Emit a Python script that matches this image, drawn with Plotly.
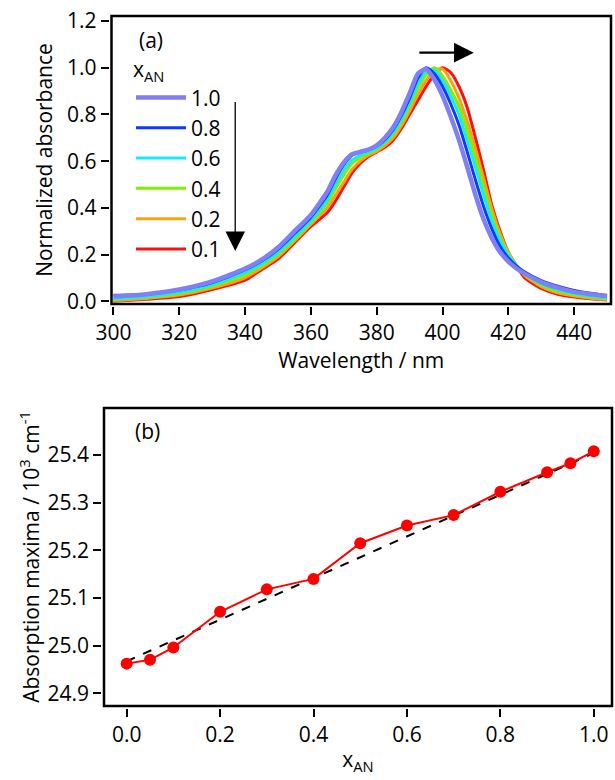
import plotly.graph_objects as go

# ---------------- data: panel (a) ----------------
wavelength = [300, 310, 320, 330, 340, 345, 350, 355, 360, 365, 367.5, 370, 372.5, 375, 377.5,
              380, 382.5, 385, 387.5, 390, 392.5, 395, 397.5, 400, 402.5, 405, 407.5, 410,
              412.5, 415, 417.5, 420, 422.5, 425, 430, 435, 440, 445, 450]

abs_10 = [0.020, 0.030, 0.050, 0.085, 0.140, 0.178, 0.230, 0.300, 0.370, 0.470, 0.540, 0.595, 0.630,
          0.640, 0.650, 0.668, 0.700, 0.745, 0.810, 0.890, 0.975, 0.995, 0.950, 0.880, 0.790, 0.690,
          0.575, 0.455, 0.350, 0.270, 0.210, 0.170, 0.140, 0.118, 0.082, 0.058, 0.040, 0.030, 0.022]
abs_08 = [0.025, 0.030, 0.048, 0.080, 0.135, 0.172, 0.222, 0.290, 0.360, 0.455, 0.525, 0.585, 0.625,
          0.638, 0.648, 0.664, 0.692, 0.735, 0.795, 0.870, 0.955, 1.000, 0.975, 0.920, 0.845, 0.755,
          0.640, 0.520, 0.405, 0.310, 0.235, 0.185, 0.150, 0.125, 0.088, 0.064, 0.046, 0.034, 0.024]
abs_06 = [0.010, 0.020, 0.038, 0.070, 0.122, 0.160, 0.208, 0.275, 0.345, 0.435, 0.500, 0.560, 0.605,
          0.625, 0.640, 0.655, 0.683, 0.722, 0.780, 0.850, 0.930, 0.985, 0.990, 0.945, 0.880, 0.800,
          0.690, 0.575, 0.455, 0.345, 0.260, 0.195, 0.152, 0.118, 0.075, 0.050, 0.034, 0.022, 0.014]
abs_04 = [0.007, 0.016, 0.032, 0.064, 0.113, 0.152, 0.200, 0.265, 0.338, 0.420, 0.482, 0.540, 0.590,
          0.615, 0.633, 0.650, 0.677, 0.713, 0.768, 0.835, 0.910, 0.970, 1.000, 0.965, 0.905, 0.835,
          0.730, 0.615, 0.490, 0.370, 0.275, 0.205, 0.153, 0.115, 0.068, 0.042, 0.028, 0.017, 0.010]
abs_02 = [0.003, 0.012, 0.026, 0.056, 0.100, 0.142, 0.190, 0.258, 0.330, 0.400, 0.455, 0.510, 0.565,
          0.600, 0.625, 0.643, 0.667, 0.700, 0.752, 0.815, 0.885, 0.945, 0.990, 0.995, 0.945, 0.870,
          0.770, 0.655, 0.525, 0.395, 0.290, 0.210, 0.153, 0.110, 0.062, 0.036, 0.022, 0.013, 0.007]
abs_01 = [0.000, 0.008, 0.020, 0.050, 0.090, 0.135, 0.180, 0.250, 0.320, 0.380, 0.430, 0.490, 0.550,
          0.590, 0.620, 0.640, 0.660, 0.690, 0.740, 0.800, 0.860, 0.920, 0.970, 1.000, 0.980, 0.920,
          0.830, 0.700, 0.560, 0.410, 0.300, 0.210, 0.150, 0.100, 0.055, 0.030, 0.018, 0.010, 0.005]

series_labels = ["1.0", "0.8", "0.6", "0.4", "0.2", "0.1"]
series_values = [abs_10, abs_08, abs_06, abs_04, abs_02, abs_01]
series_colors = ["#8080f4", "#0a3cff", "#19e8ff", "#7ef000", "#ffa010", "#ff1010"]
series_widths = [4.5, 3, 3, 3, 3, 3]

wl_ticks = [300, 320, 340, 360, 380, 400, 420, 440]
abs_ticks = [0.0, 0.2, 0.4, 0.6, 0.8, 1.0, 1.2]

# ---------------- data: panel (b) ----------------
x_an = [0.0, 0.05, 0.1, 0.2, 0.3, 0.4, 0.5, 0.6, 0.7, 0.8, 0.9, 0.95, 1.0]
abs_max = [24.962, 24.970, 24.996, 25.071, 25.118, 25.140, 25.215, 25.252, 25.274, 25.323,
           25.364, 25.383, 25.408]
fit_x = [0.0, 1.0]
fit_y = [24.967, 25.404]

xan_ticks = [0.0, 0.2, 0.4, 0.6, 0.8, 1.0]
max_ticks = [24.9, 25.0, 25.1, 25.2, 25.3, 25.4]

FONT = "Open Sans"
FS = 21
W, H = 615, 780

fig = go.Figure()

n = len(series_labels)
for i, (lab, vals, col, wd) in enumerate(zip(series_labels, series_values, series_colors, series_widths)):
    fig.add_trace(go.Scatter(
        x=wavelength, y=vals, mode="lines", name=lab, legendgroup=lab,
        line=dict(color=col, width=wd, shape="spline", smoothing=0.6),
        zorder=n - i,
        xaxis="x", yaxis="y", showlegend=True))

fig.add_trace(go.Scatter(
    x=fit_x, y=fit_y, mode="lines", line=dict(color="black", width=2, dash="dash"),
    xaxis="x2", yaxis="y2", showlegend=False))
fig.add_trace(go.Scatter(
    x=x_an, y=abs_max, mode="lines+markers",
    line=dict(color="#ff0000", width=2),
    marker=dict(color="#ff0000", size=12),
    xaxis="x2", yaxis="y2", showlegend=False, zorder=1))

axis_common = dict(
    showline=True, linecolor="black", linewidth=2.5, mirror=True,
    ticks="outside", ticklen=8, tickwidth=2, tickcolor="black",
    showgrid=False, zeroline=False, automargin=False,
    tickfont=dict(family=FONT, size=FS, color="black"),
)

# pixel geometry of the plot frames
top_l, top_r, top_t, top_b = 111.5, 611, 16, 304
bot_l, bot_r, bot_t, bot_b = 104, 612, 408, 706

fig.update_layout(
    width=W, height=H,
    margin=dict(l=0, r=0, t=0, b=0),
    paper_bgcolor="white", plot_bgcolor="white",
    font=dict(family=FONT, size=FS, color="black"),
    xaxis=dict(axis_common, domain=[top_l / W, top_r / W], anchor="y",
               range=[299.4, 451.2], tickvals=wl_ticks,
               title=dict(text="Wavelength / nm", font=dict(family=FONT, size=FS), standoff=2)),
    yaxis=dict(axis_common, domain=[1 - top_b / H, 1 - top_t / H], anchor="x",
               range=[-0.012, 1.222], tickvals=abs_ticks, tickformat=".1f",
               title=dict(text="Normalized absorbance", font=dict(family=FONT, size=FS), standoff=9)),
    xaxis2=dict(axis_common, domain=[bot_l / W, bot_r / W], anchor="y2",
                range=[-0.0485, 1.039], tickvals=xan_ticks, tickformat=".1f",
                title=dict(text="x<sub>AN</sub>", font=dict(family=FONT, size=FS), standoff=6)),
    yaxis2=dict(axis_common, domain=[1 - bot_b / H, 1 - bot_t / H], anchor="x2",
                range=[24.873, 25.499], tickvals=max_ticks, tickformat=".1f",
                title=dict(text="Absorption maxima / 10<sup>3</sup> cm<sup>-1</sup>",
                           font=dict(family=FONT, size=FS), standoff=3)),
    legend=dict(
        x=131 / W, y=1 - 50 / H, xanchor="left", yanchor="top",
        bgcolor="rgba(0,0,0,0)", borderwidth=0,
        title=dict(text="x<sub>AN</sub>", font=dict(family=FONT, size=FS), side="top"),
        font=dict(family=FONT, size=FS, color="black"),
        traceorder="grouped", tracegroupgap=0, itemwidth=50,
    ),
    showlegend=True,
)

# plot frames (box around each panel)
for xr, yr in (("x domain", "y domain"), ("x2 domain", "y2 domain")):
    fig.add_shape(type="rect", xref=xr, yref=yr, x0=0, x1=1, y0=0, y1=1,
                  line=dict(color="black", width=2.5), fillcolor="rgba(0,0,0,0)", layer="above")

# panel labels
fig.add_annotation(text="(a)", xref="paper", yref="paper", x=137 / W, y=1 - 40 / H,
                   xanchor="left", yanchor="middle", showarrow=False,
                   font=dict(family=FONT, size=FS, color="black"))
fig.add_annotation(text="(b)", xref="paper", yref="paper", x=133 / W, y=1 - 431 / H,
                   xanchor="left", yanchor="middle", showarrow=False,
                   font=dict(family=FONT, size=FS, color="black"))

# shift arrow (peak moves to red)
fig.add_annotation(x=409.5, y=1.065, ax=392.5, ay=1.065, xref="x", yref="y", axref="x", ayref="y",
                   text="", showarrow=True, arrowhead=2, arrowsize=1.8, arrowwidth=2.2,
                   arrowcolor="black")
# legend-order arrow (x_AN decreasing)
fig.add_annotation(x=337.0, y=0.215, ax=337.0, ay=0.86, xref="x", yref="y", axref="x", ayref="y",
                   text="", showarrow=True, arrowhead=2, arrowsize=3.0, arrowwidth=1.3,
                   arrowcolor="black")

fig.write_html("out.html", config={"displayModeBar": False},
               post_script="document.body.style.margin='0';document.body.style.overflow='hidden';")
